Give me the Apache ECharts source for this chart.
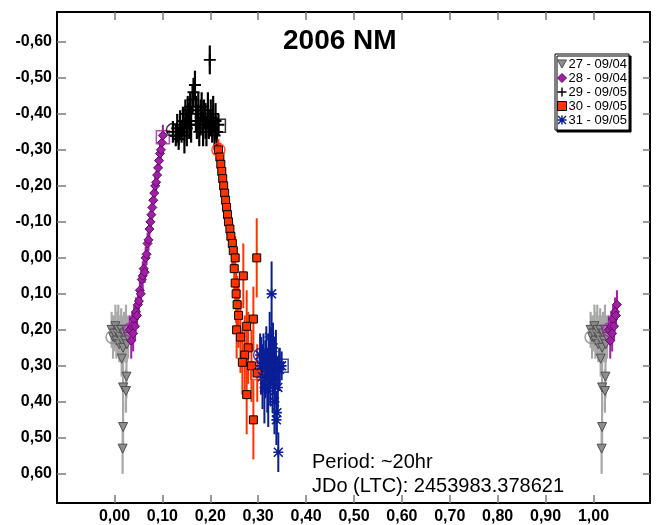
<!DOCTYPE html>
<html>
<head>
<meta charset="utf-8">
<script src="https://cdn.jsdelivr.net/npm/echarts@6/dist/echarts.min.js"></script>
<style>
  html, body { margin: 0; padding: 0; background: #fff; }
  #chart { width: 656px; height: 525px; }
</style>
</head>
<body>
<div id="chart"></div>
<script>
// tick labels
const xTicks = [0, 0.1, 0.2, 0.3, 0.4, 0.5, 0.6, 0.7, 0.8, 0.9, 1.0];
const yTicks = [-0.6, -0.5, -0.4, -0.3, -0.2, -0.1, 0, 0.1, 0.2, 0.3, 0.4, 0.5, 0.6];

const sessionNames = ['27 - 09/04', '28 - 09/04', '29 - 09/05', '30 - 09/05', '31 - 09/05'];

// [phase, reduced mag, error]
const s27 = [
  [-0.006, 0.20, 0.05], [-0.003, 0.22, 0.06], [0.000, 0.21, 0.05], [0.002, 0.19, 0.06],
  [0.004, 0.23, 0.05], [0.006, 0.21, 0.06], [0.008, 0.20, 0.07], [0.010, 0.24, 0.05],
  [0.012, 0.22, 0.06], [0.014, 0.20, 0.06], [0.016, 0.23, 0.07], [0.018, 0.25, 0.05],
  [0.020, 0.21, 0.06], [0.022, 0.23, 0.06], [0.024, 0.20, 0.07], [0.026, 0.24, 0.05],
  [0.028, 0.22, 0.06], [0.015, 0.28, 0.05], [0.025, 0.33, 0.06], [0.018, 0.36, 0.06],
  [0.024, 0.37, 0.06], [0.018, 0.47, 0.07], [0.017, 0.53, 0.07]
];
const s28 = [
  [0.032, 0.20, 0.04], [0.035, 0.23, 0.05], [0.037, 0.19, 0.04], [0.039, 0.21, 0.05],
  [0.041, 0.17, 0.04], [0.043, 0.19, 0.04], [0.045, 0.15, 0.04], [0.047, 0.16, 0.03],
  [0.049, 0.13, 0.04], [0.051, 0.12, 0.03], [0.053, 0.09, 0.04], [0.055, 0.10, 0.03],
  [0.057, 0.06, 0.03], [0.059, 0.05, 0.04], [0.061, 0.03, 0.03], [0.063, 0.04, 0.03],
  [0.065, 0.00, 0.03], [0.067, -0.01, 0.03], [0.069, -0.04, 0.03], [0.071, -0.05, 0.03],
  [0.073, -0.08, 0.03], [0.075, -0.10, 0.03], [0.077, -0.12, 0.03], [0.079, -0.14, 0.03],
  [0.081, -0.16, 0.03], [0.083, -0.18, 0.03], [0.085, -0.20, 0.03], [0.087, -0.21, 0.03],
  [0.089, -0.23, 0.03], [0.091, -0.25, 0.03], [0.093, -0.27, 0.03], [0.095, -0.29, 0.03],
  [0.097, -0.30, 0.03], [0.099, -0.32, 0.03], [0.101, -0.34, 0.03]
];
const s29 = [
  [0.122, -0.35, 0.03], [0.128, -0.34, 0.03], [0.131, -0.36, 0.04], [0.134, -0.33, 0.03],
  [0.137, -0.37, 0.04], [0.140, -0.35, 0.03], [0.143, -0.38, 0.04], [0.146, -0.34, 0.05],
  [0.148, -0.40, 0.04], [0.151, -0.36, 0.05], [0.153, -0.41, 0.04], [0.156, -0.38, 0.05],
  [0.158, -0.42, 0.04], [0.160, -0.37, 0.05], [0.163, -0.44, 0.04], [0.165, -0.46, 0.04],
  [0.168, -0.48, 0.04], [0.170, -0.40, 0.05], [0.172, -0.37, 0.04], [0.175, -0.41, 0.05],
  [0.177, -0.35, 0.04], [0.180, -0.39, 0.05], [0.182, -0.42, 0.04], [0.185, -0.36, 0.05],
  [0.187, -0.40, 0.04], [0.190, -0.38, 0.05], [0.192, -0.35, 0.04], [0.195, -0.41, 0.05],
  [0.197, -0.37, 0.04], [0.199, -0.55, 0.04], [0.201, -0.39, 0.05], [0.204, -0.36, 0.04],
  [0.206, -0.40, 0.05], [0.209, -0.34, 0.04], [0.211, -0.38, 0.05], [0.214, -0.35, 0.04],
  [0.217, -0.37, 0.03]
];
const s30 = [
  [0.217, -0.30, 0.03], [0.220, -0.28, 0.04], [0.222, -0.26, 0.03], [0.224, -0.24, 0.05],
  [0.226, -0.22, 0.04], [0.228, -0.20, 0.04], [0.230, -0.18, 0.05], [0.232, -0.16, 0.04],
  [0.234, -0.14, 0.05], [0.236, -0.12, 0.04], [0.238, -0.10, 0.05], [0.241, -0.08, 0.05],
  [0.243, -0.06, 0.05], [0.246, -0.04, 0.06], [0.248, -0.02, 0.05], [0.252, 0.00, 0.06],
  [0.297, 0.00, 0.11], [0.250, 0.03, 0.06], [0.269, 0.05, 0.09], [0.252, 0.07, 0.07],
  [0.254, 0.10, 0.08], [0.256, 0.13, 0.08], [0.259, 0.16, 0.09], [0.290, 0.17, 0.09],
  [0.276, 0.19, 0.10], [0.255, 0.20, 0.08], [0.263, 0.22, 0.10], [0.279, 0.25, 0.10],
  [0.272, 0.27, 0.11], [0.267, 0.29, 0.09], [0.286, 0.30, 0.10], [0.276, 0.38, 0.11],
  [0.290, 0.45, 0.11], [0.298, 0.32, 0.08]
];
const s31 = [
  [0.304, 0.27, 0.06], [0.306, 0.30, 0.08], [0.309, 0.33, 0.09], [0.311, 0.28, 0.07],
  [0.313, 0.36, 0.10], [0.315, 0.31, 0.08], [0.317, 0.26, 0.07], [0.319, 0.34, 0.09],
  [0.321, 0.37, 0.10], [0.322, 0.29, 0.08], [0.324, 0.22, 0.07], [0.325, 0.32, 0.09],
  [0.327, 0.27, 0.08], [0.328, 0.10, 0.09], [0.330, 0.35, 0.08], [0.331, 0.25, 0.07],
  [0.333, 0.30, 0.08], [0.334, 0.40, 0.09], [0.335, 0.33, 0.07], [0.337, 0.28, 0.08],
  [0.338, 0.45, 0.07], [0.339, 0.43, 0.06], [0.341, 0.36, 0.07], [0.342, 0.54, 0.055],
  [0.344, 0.31, 0.06], [0.345, 0.30, 0.05], [0.349, 0.30, 0.04]
];

// first / last observation of each night: [phase, mag, session]
const firstObs = [[-0.004, 0.22, 0], [0.032, 0.20, 1], [0.122, -0.355, 2], [0.217, -0.30, 3], [0.304, 0.27, 4]];
const lastObs = [[0.101, -0.335, 1], [0.218, -0.367, 2], [0.298, 0.32, 3], [0.349, 0.30, 4]];

const sessionData = [s27, s28, s29, s30, s31];

const PLUS = 'path://M4.2,0H5.8V10H4.2Z M0,4.2H10V5.8H0Z';
const STAR = 'path://M4.2,0H5.8V10H4.2Z M0,4.2H10V5.8H0Z M1.1,0L10,8.9L8.9,10L0,1.1Z M8.9,0L10,1.1L1.1,10L0,8.9Z';
const TRI_DOWN = 'path://M0,0L10,0L5,9Z';

const looks = [
  { bar: '#a8a8a8', fill: '#8e8e8e', edge: '#505050', symbol: TRI_DOWN, size: 9, barW: 2.2 },
  { bar: '#a11fa6', fill: '#a11fa6', edge: '#5e0a62', symbol: 'diamond', size: 9, barW: 2 },
  { bar: '#000000', fill: '#000000', edge: '#000000', symbol: PLUS, size: 12, barW: 2.2 },
  { bar: '#ff3300', fill: '#ff3300', edge: '#000000', symbol: 'rect', size: 8, barW: 2 },
  { bar: '#0a1e96', fill: '#0a1e96', edge: '#0a1e96', symbol: STAR, size: 10, barW: 2 }
];

// phase wrap: points near phase 0 are shown again after 1.0
const wrap = pts => pts.concat(pts.filter(p => p[0] <= 0.05).map(p => [p[0] + 1, p[1], p[2]]));

const fmt = v => v.toFixed(2).replace('.', ',');

const series = [];
sessionData.forEach((pts, i) => {
  const lk = looks[i];
  const data = wrap(pts);
  series.push({
    type: 'custom',
    name: 'err' + i,
    data: data,
    encode: { x: 0, y: 1 },
    silent: true,
    renderItem: (params, api) => {
      const x = api.value(0), y = api.value(1), e = api.value(2);
      const a = api.coord([x, y - e]);
      const b = api.coord([x, y + e]);
      return {
        type: 'line',
        shape: { x1: a[0], y1: a[1], x2: b[0], y2: b[1] },
        style: { stroke: lk.bar, lineWidth: lk.barW }
      };
    }
  });
  series.push({
    type: 'scatter',
    name: sessionNames[i],
    data: data,
    symbol: lk.symbol,
    symbolSize: lk.size,
    silent: true,
    itemStyle: { color: lk.fill, borderColor: lk.edge, borderWidth: i === 2 || i === 4 ? 0 : 1, opacity: 1 }
  });
  const opens = wrap(firstObs.filter(p => p[2] === i));
  const closes = wrap(lastObs.filter(p => p[2] === i));
  series.push({
    type: 'scatter',
    name: 'first' + i,
    data: opens,
    symbol: 'circle',
    symbolSize: 13,
    silent: true,
    itemStyle: { color: 'rgba(0,0,0,0)', borderColor: i === 0 ? '#8a8a8a' : lk.bar, borderWidth: 1.5 }
  });
  series.push({
    type: 'scatter',
    name: 'last' + i,
    data: closes,
    symbol: 'rect',
    symbolSize: 13,
    silent: true,
    itemStyle: { color: 'rgba(0,0,0,0)', borderColor: lk.bar, borderWidth: 1.5 }
  });
});

const tickStyle = { color: '#7a7a7a', width: 1.5 };
const lineStyle = { color: '#000', width: 2 };

const chart = echarts.init(document.getElementById('chart'), null, { renderer: 'canvas' });
chart.setOption({
  animation: false,
  backgroundColor: '#fff',
  title: {
    text: '2006 NM',
    left: 283,
    top: 27,
    padding: 0,
    textStyle: { fontSize: 28, fontWeight: 'bold', fontFamily: 'Arial', color: '#000' }
  },
  legend: {
    orient: 'vertical',
    left: 555,
    top: 54,
    padding: [3, 2, 3, 2],
    itemGap: 0,
    itemWidth: 9,
    itemHeight: 9,
    selectedMode: false,
    backgroundColor: '#fff',
    borderColor: '#000',
    borderWidth: 1,
    shadowColor: '#000',
    shadowBlur: 0,
    shadowOffsetX: 2,
    shadowOffsetY: 2,
    textStyle: { fontSize: 13, fontFamily: 'Arial', color: '#000', lineHeight: 14, padding: [0, 0, 0, -3] },
    data: sessionNames.map((n, i) => ({
      name: n,
      icon: looks[i].symbol,
      itemStyle: { color: looks[i].fill, borderColor: looks[i].edge, borderWidth: i === 2 || i === 4 ? 0 : 1 }
    }))
  },
  grid: { left: 57, right: 6, top: 12, bottom: 22 },
  xAxis: [
    {
      type: 'value', min: -0.12, max: 1.118, position: 'bottom',
      axisLine: { show: true, onZero: false, lineStyle },
      axisTick: { show: true, inside: true, length: 8, customValues: xTicks, lineStyle: tickStyle },
      axisLabel: {
        customValues: xTicks, formatter: fmt, margin: 6,
        fontSize: 16, fontWeight: 'bold', fontFamily: 'Arial', color: '#000'
      },
      splitLine: { show: false }
    },
    {
      type: 'value', min: -0.12, max: 1.118, position: 'top',
      axisLine: { show: true, onZero: false, lineStyle },
      axisTick: { show: true, inside: true, length: 8, customValues: xTicks, lineStyle: tickStyle },
      axisLabel: { show: false },
      splitLine: { show: false }
    }
  ],
  yAxis: [
    {
      type: 'value', inverse: true, min: -0.683, max: 0.681, position: 'left',
      axisLine: { show: true, onZero: false, lineStyle },
      axisTick: { show: true, inside: true, length: 9, customValues: yTicks, lineStyle: tickStyle },
      axisLabel: {
        customValues: yTicks, formatter: fmt, margin: 5,
        fontSize: 16, fontWeight: 'bold', fontFamily: 'Arial', color: '#000'
      },
      splitLine: { show: false }
    },
    {
      type: 'value', inverse: true, min: -0.683, max: 0.681, position: 'right',
      axisLine: { show: true, onZero: false, lineStyle },
      axisTick: { show: true, inside: true, length: 7, customValues: yTicks, lineStyle: tickStyle },
      axisLabel: { show: false },
      splitLine: { show: false }
    }
  ],
  graphic: [
    {
      type: 'text',
      left: 312,
      top: 450,
      style: {
        text: 'Period: ~20hr\nJDo (LTC): 2453983.378621',
        fontSize: 20,
        lineHeight: 24,
        fontFamily: 'Arial',
        fill: '#000'
      },
      z: 100
    }
  ],
  series: series
});
</script>
</body>
</html>
